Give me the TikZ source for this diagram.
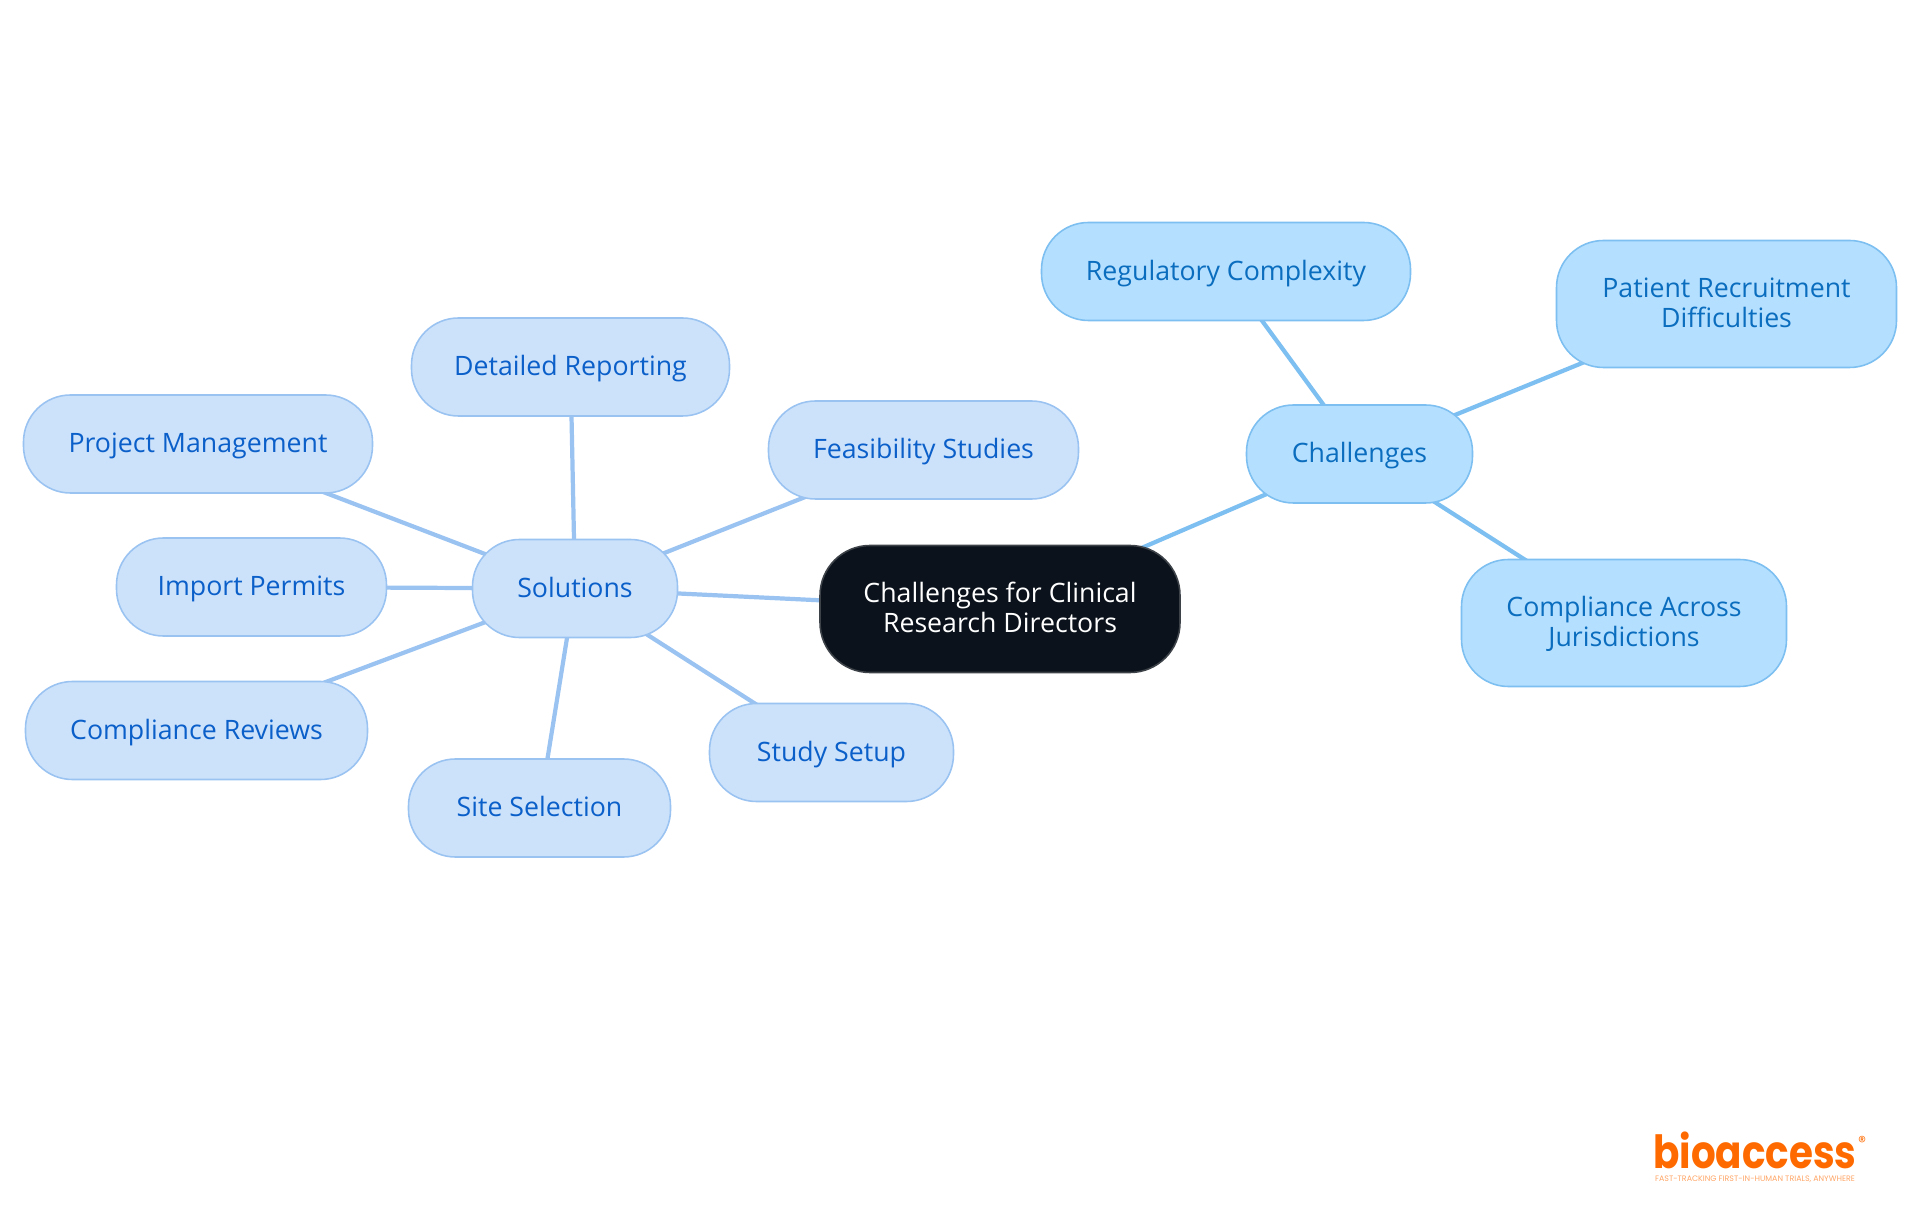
\documentclass[tikz,border=0pt]{standalone}
\usepackage{fontspec}
\setmainfont{Open Sans}
\newfontfamily\logofont{Poppins}
\usetikzlibrary{backgrounds}
\definecolor{rootfill}{HTML}{0B121B}
\definecolor{rootline}{HTML}{3D4248}
\definecolor{solfill}{HTML}{CCE2FB}
\definecolor{solline}{HTML}{9AC3F1}
\definecolor{soltext}{HTML}{0B5FC9}
\definecolor{chalfill}{HTML}{B5DFFF}
\definecolor{challine}{HTML}{7CBFF0}
\definecolor{chaltext}{HTML}{0A6DBE}
\definecolor{logoorange}{HTML}{FF6A00}
\tikzset{
    mapbox/.style={rounded corners=0.47cm, line width=0.45pt, align=center, inner sep=0pt,
        font=\fontsize{7.6}{8.3}\selectfont, execute at begin node=\rule[-2.5pt]{0pt}{9.9pt}},
    twoline/.style={minimum height=1.27cm, execute at begin node={}, text height=13.8pt, text depth=0.7pt},
    rootbox/.style={mapbox, twoline, fill=rootfill, draw=rootline, text=white, rounded corners=0.5cm},
    solbox/.style={mapbox, fill=solfill, draw=solline, text=soltext, minimum height=0.98cm},
    chalbox/.style={mapbox, fill=chalfill, draw=challine, text=chaltext, minimum height=0.98cm},
    soledge/.style={line width=1.2pt, draw=solline},
    chaledge/.style={line width=1.2pt, draw=challine},
}
\begin{document}
\begin{tikzpicture}
    \useasboundingbox (0,0) rectangle (19.2,12.15);

    % Centre
    \node[rootbox, minimum width=3.60cm] (root) at (10.00,6.06) {Challenges for Clinical\\Research Directors};

    % Solutions
    \node[solbox, minimum width=2.05cm] (solutions) at (5.75,6.265) {Solutions};
    \node[solbox, minimum width=3.18cm] (reporting) at (5.705,8.48) {Detailed Reporting};
    \node[solbox, minimum width=3.10cm] (feasibility) at (9.235,7.65) {Feasibility Studies};
    \node[solbox, minimum width=3.49cm] (project) at (1.98,7.71) {Project Management};
    \node[solbox, minimum width=2.70cm] (permits) at (2.515,6.28) {Import Permits};
    \node[solbox, minimum width=3.42cm] (reviews) at (1.965,4.845) {Compliance Reviews};
    \node[solbox, minimum width=2.62cm] (site) at (5.395,4.07) {Site Selection};
    \node[solbox, minimum width=2.44cm] (setup) at (8.315,4.625) {Study Setup};

    % Challenges
    \node[chalbox, minimum width=2.26cm] (challenges) at (13.595,7.61) {Challenges};
    \node[chalbox, minimum width=3.69cm] (regulatory) at (12.26,9.435) {Regulatory Complexity};
    \node[chalbox, twoline, minimum width=3.40cm] (patient) at (17.265,9.11) {Patient Recruitment\\Difficulties};
    \node[chalbox, twoline, minimum width=3.25cm] (across) at (16.24,5.92) {Compliance Across\\Jurisdictions};

    % Connectors
    \begin{pgfonlayer}{background}
        \draw[soledge] (root.center) -- (solutions.center);
        \foreach \leaf in {reporting,feasibility,project,permits,reviews,site,setup}
            \draw[soledge] (solutions.center) -- (\leaf.center);
        \draw[chaledge] (root.center) -- (challenges.center);
        \foreach \leaf in {regulatory,patient,across}
            \draw[chaledge] (challenges.center) -- (\leaf.center);
    \end{pgfonlayer}

    % Logo
    \node[inner sep=0pt, text=logoorange, font=\logofont\bfseries\fontsize{13}{13}\selectfont, anchor=base, xscale=0.85, transform shape] (logo) at (17.55,0.47) {bioaccess};
    \node[inner sep=0pt, text=logoorange, font=\logofont\fontsize{4.5}{4.5}\selectfont] (reg) at (18.62,0.73) {®};
    \node[inner sep=0pt, text=logoorange!60, font=\logofont\fontsize{2.25}{2.3}\selectfont] (tagline) at (17.55,0.36) {FAST-TRACKING FIRST-IN-HUMAN TRIALS, ANYWHERE};
\end{tikzpicture}
\end{document}
